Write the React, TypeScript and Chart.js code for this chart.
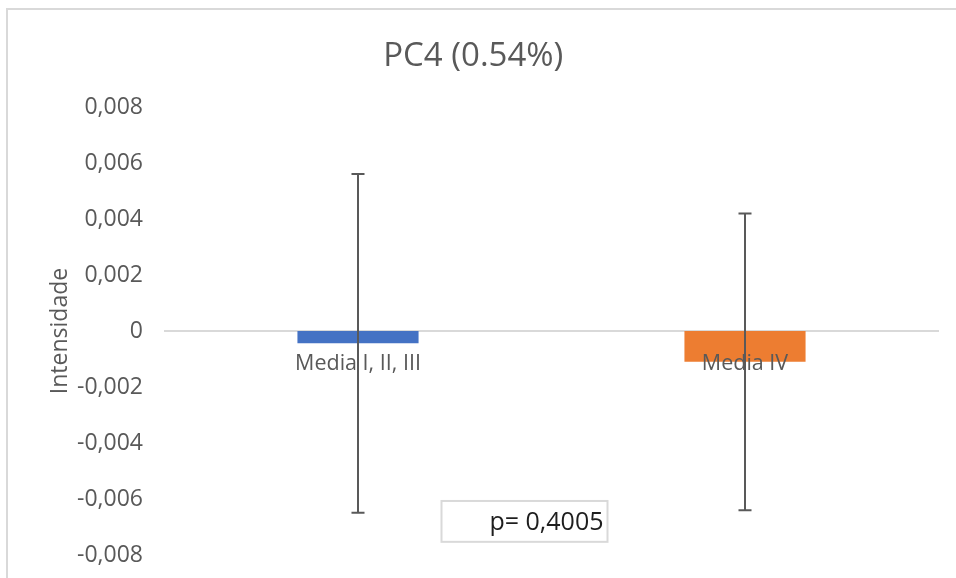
import React, { useEffect, useRef } from "react";
import { Chart, registerables } from "chart.js";

Chart.register(...registerables);

// Component means and their standard deviations
const categories = ["Media I, II, III", "Media IV"];
const means = [-0.00044, -0.0011];
const deviations = [0.00605, 0.0053];
const barColors = ["#4472C4", "#ED7D31"];
const chartTitle = "PC4 (0.54%)";
const yAxisTitle = "Intensidade";
const pValueLabel = "p= 0,4005";
const yMin = -0.008;
const yMax = 0.008;
const yStep = 0.002;

const FONT = "'Open Sans', 'DejaVu Sans', sans-serif";
const GREY_TEXT = "#595959";

const formatTick = (v: number) =>
  Math.abs(v) < 1e-9 ? "0" : v.toFixed(3).replace(".", ",");

// Light frame around the whole chart object
const framePlugin = {
  id: "frame",
  beforeDraw(chart: any) {
    const { ctx, width, height } = chart;
    ctx.save();
    ctx.fillStyle = "#ffffff";
    ctx.fillRect(0, 0, width, height);
    ctx.strokeStyle = "#d9d9d9";
    ctx.lineWidth = 2;
    ctx.beginPath();
    ctx.moveTo(7, height);
    ctx.lineTo(7, 9);
    ctx.lineTo(width, 9);
    ctx.stroke();
    ctx.restore();
  },
};

// Symmetric error bars (mean ± deviation) drawn on top of the bars
const errorBarPlugin = {
  id: "errorBars",
  afterDraw(chart: any) {
    const { ctx } = chart;
    const meta = chart.getDatasetMeta(0);
    const yScale = chart.scales.y;
    ctx.save();
    ctx.strokeStyle = "#595959";
    ctx.lineWidth = 2;
    meta.data.forEach((bar: any, i: number) => {
      const x = bar.x;
      const top = yScale.getPixelForValue(means[i] + deviations[i]);
      const bottom = yScale.getPixelForValue(means[i] - deviations[i]);
      const cap = 6.5;
      ctx.beginPath();
      ctx.moveTo(x, top);
      ctx.lineTo(x, bottom);
      ctx.moveTo(x - cap, top);
      ctx.lineTo(x + cap, top);
      ctx.moveTo(x - cap, bottom);
      ctx.lineTo(x + cap, bottom);
      ctx.stroke();
    });
    ctx.restore();
  },
};

// Boxed p-value note under the bars
const pValuePlugin = {
  id: "pValue",
  afterDraw(chart: any) {
    const { ctx } = chart;
    const xScale = chart.scales.x;
    const yScale = chart.scales.y;
    const mid = (xScale.getPixelForValue(0) + xScale.getPixelForValue(1)) / 2;
    const left = mid - 110;
    const right = mid + 56;
    const top = yScale.getPixelForValue(-0.00607);
    const bottom = yScale.getPixelForValue(-0.00753);
    ctx.save();
    ctx.fillStyle = "#ffffff";
    ctx.fillRect(left, top, right - left, bottom - top);
    ctx.strokeStyle = "#d9d9d9";
    ctx.lineWidth = 2;
    ctx.strokeRect(left, top, right - left, bottom - top);
    ctx.fillStyle = "#1e1e1e";
    ctx.font = `25px ${FONT}`;
    ctx.textAlign = "right";
    ctx.textBaseline = "middle";
    ctx.fillText(pValueLabel, right - 4, (top + bottom) / 2 + 1);
    ctx.restore();
  },
};

export default function App() {
  const canvasRef = useRef<HTMLCanvasElement | null>(null);

  useEffect(() => {
    if (!canvasRef.current) return;
    const chart = new Chart(canvasRef.current, {
      type: "bar",
      data: {
        labels: categories,
        datasets: [
          {
            data: means,
            backgroundColor: barColors,
            borderWidth: 0,
            barPercentage: 0.313,
            categoryPercentage: 1,
          },
        ],
      },
      options: {
        animation: false,
        responsive: true,
        maintainAspectRatio: false,
        layout: { padding: { left: 8, right: 17.5, top: 0, bottom: 23 } },
        plugins: {
          legend: { display: false },
          tooltip: { enabled: false },
          title: {
            display: true,
            text: chartTitle,
            color: GREY_TEXT,
            font: { family: FONT, size: 33, weight: "normal" },
            padding: { top: 36.7, bottom: 30.7 },
          },
        },
        scales: {
          x: {
            position: { y: 0 } as any,
            grid: { display: false, drawTicks: false },
            border: { display: true, color: "#d9d9d9", width: 2 },
            ticks: {
              z: 1,
              color: GREY_TEXT,
              font: { family: FONT, size: 21.5 },
              padding: 20,
              maxRotation: 0,
            },
            // Axis sits on the zero line inside the plot, so it takes no room
            afterFit: (scale: any) => {
              scale.height = 0;
              scale.paddingTop = 0;
              scale.paddingBottom = 0;
            },
          },
          y: {
            min: yMin,
            max: yMax,
            grid: { display: false, drawTicks: false },
            border: { display: false },
            ticks: {
              stepSize: yStep,
              color: GREY_TEXT,
              font: { family: FONT, size: 23 },
              padding: 21.5,
              callback: (v: any) => formatTick(Number(v)),
            },
            title: {
              display: true,
              text: yAxisTitle,
              color: GREY_TEXT,
              font: { family: FONT, size: 23 },
              padding: { top: 38.2, bottom: 0 },
            },
            afterFit: (scale: any) => {
              scale.width = 164.5 - 8;
              scale.paddingTop = 12;
              scale.paddingBottom = 12;
            },
          },
        },
      },
      plugins: [framePlugin, errorBarPlugin, pValuePlugin],
    });
    return () => chart.destroy();
  }, []);

  return (
    <div style={{ position: "absolute", left: 0, top: 0, width: 956, height: 578 }}>
      <canvas ref={canvasRef} />
    </div>
  );
}
